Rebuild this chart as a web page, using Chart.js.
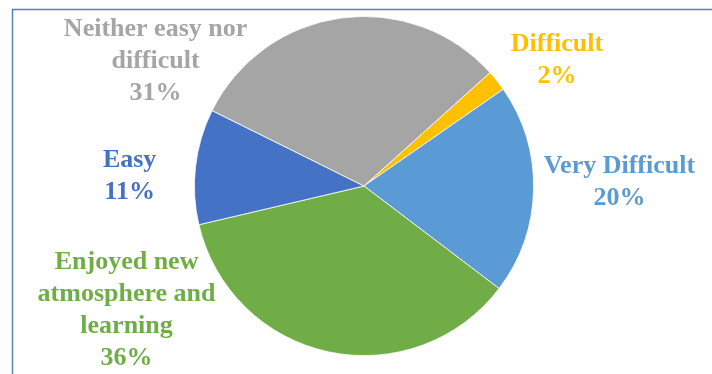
<!DOCTYPE html>
<html>
<head>
<meta charset="utf-8">
<script src="https://cdn.jsdelivr.net/npm/chart.js@4/dist/chart.umd.min.js"></script>
<style>
  html, body { margin: 0; padding: 0; background: #fff; }
  #wrap { width: 712px; height: 374px; }
</style>
</head>
<body>
<div id="wrap"><canvas id="myChart" width="712" height="374"></canvas></div>
<script>
const categories = ['Difficult', 'Very Difficult', 'Enjoyed new atmosphere and learning', 'Easy', 'Neither easy nor difficult'];
const labelLines = [['Difficult'], ['Very Difficult'], ['Enjoyed new', 'atmosphere and', 'learning'], ['Easy'], ['Neither easy nor', 'difficult']];
const percents = [2, 20, 36, 11, 31];
const colors = ['#FFC000', '#5B9BD5', '#70AD47', '#4472C4', '#A5A5A5'];

// where each label sits, in pie radii from the centre
const labelOffsets = [[1.138, -0.741], [1.506, -0.024], [-1.400, 0.735], [-1.382, -0.059], [-1.229, -0.735]];

const framePlugin = {
  id: 'frame',
  beforeDraw(chart) {
    const ctx = chart.ctx;
    ctx.save();
    ctx.strokeStyle = '#4f81bd';
    ctx.lineWidth = 1.5;
    ctx.beginPath();
    ctx.moveTo(712, 9.5);
    ctx.lineTo(12.5, 9.5);
    ctx.lineTo(12.5, 374);
    ctx.stroke();
    ctx.restore();
  }
};

const labelPlugin = {
  id: 'sliceLabels',
  afterDraw(chart) {
    const ctx = chart.ctx;
    const arc = chart.getDatasetMeta(0).data[0];
    const cx = arc.x, cy = arc.y, r = arc.outerRadius;
    ctx.save();
    ctx.font = 'bold 26px "Liberation Serif", "Times New Roman", serif';
    ctx.textAlign = 'center';
    ctx.textBaseline = 'middle';
    const lh = 32;
    categories.forEach((c, i) => {
      const lines = labelLines[i].concat([percents[i] + '%']);
      const x = cx + labelOffsets[i][0] * r;
      const y = cy + labelOffsets[i][1] * r;
      ctx.fillStyle = colors[i];
      const top = y - (lines.length - 1) * lh / 2;
      lines.forEach((ln, j) => ctx.fillText(ln, x, top + j * lh));
    });
    ctx.restore();
  }
};

const myChart = new Chart(document.getElementById('myChart'), {
  type: 'pie',
  data: {
    labels: categories,
    datasets: [{
      data: percents,
      backgroundColor: colors,
      borderColor: '#ffffff',
      borderWidth: 0.8
    }]
  },
  options: {
    responsive: false,
    animation: false,
    rotation: 48,
    layout: { padding: { left: 194, right: 178, top: 16, bottom: 18 } },
    plugins: {
      legend: { display: false },
      tooltip: { enabled: false }
    }
  },
  plugins: [framePlugin, labelPlugin]
});
</script>
</body>
</html>
